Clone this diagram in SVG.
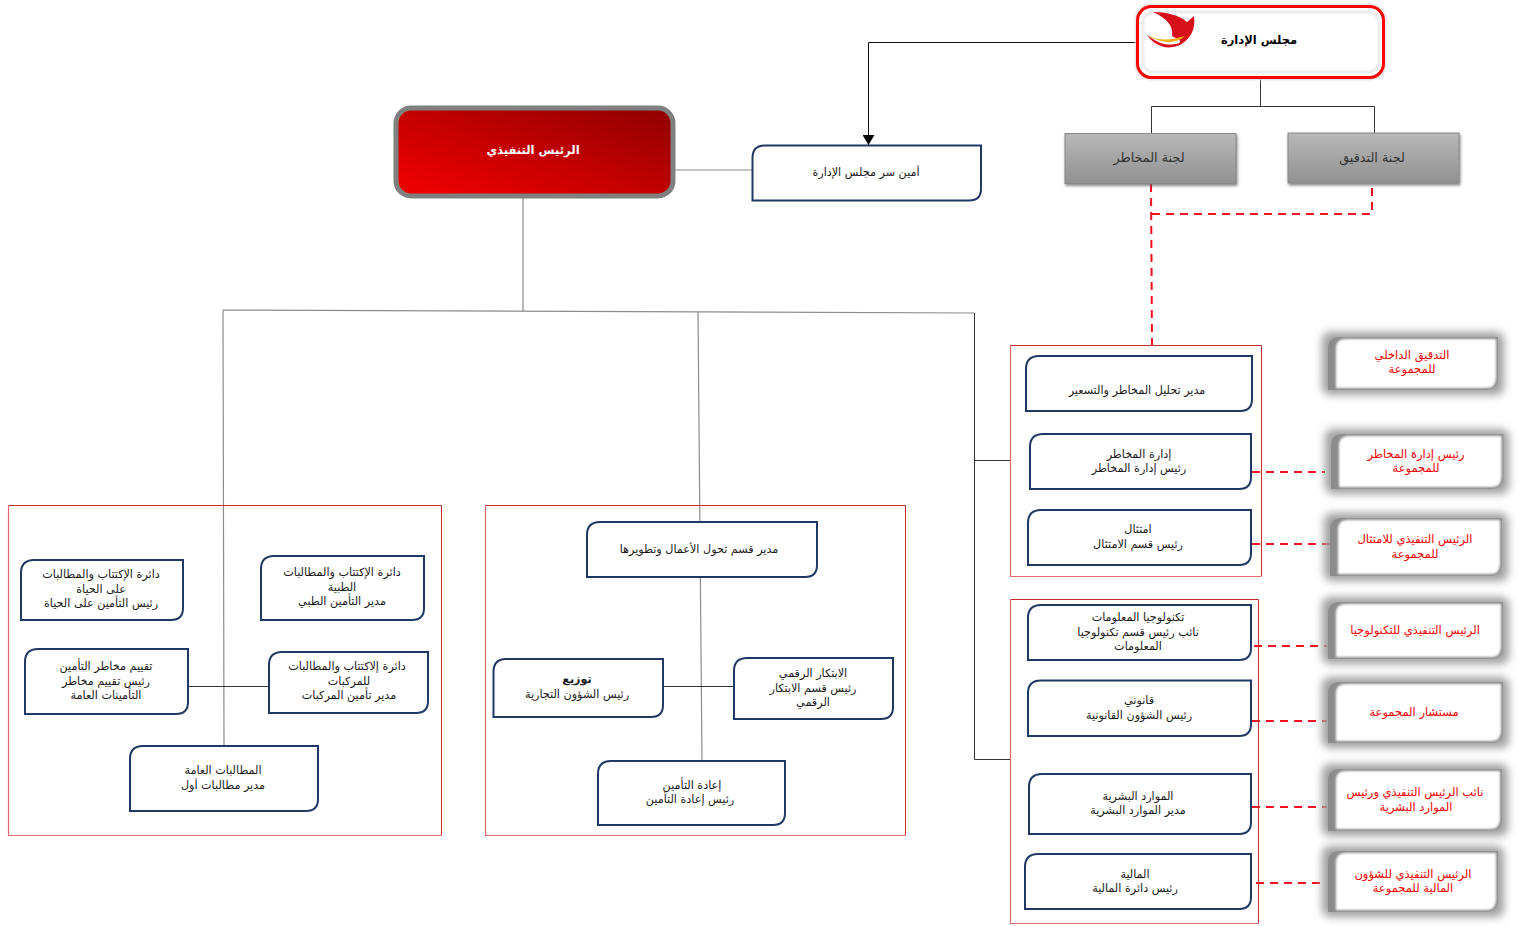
<svg xmlns="http://www.w3.org/2000/svg" width="1519" height="926" viewBox="0 0 1519 926">
<style>
text{font-family:"DejaVu Sans","Noto Sans",sans-serif;font-size:11.2px;text-anchor:middle;direction:rtl;fill:#1a1a1a}
.b{font-weight:bold}
.r{fill:#f00000;font-size:11.5px}
.n{fill:#fff;stroke:#1f3864;stroke-width:2}
.f{fill:none;stroke:#c92a2a;stroke-width:1}
.p{fill:none;stroke:#e06a6a;stroke-width:1.2}
.c{fill:none;stroke:#8c8c8c;stroke-width:1.2}
.k{fill:none;stroke:#333;stroke-width:1}
.a{fill:none;stroke:#111;stroke-width:1}
.d{fill:none;stroke:#f01020;stroke-width:2;stroke-dasharray:8 6}
.g{fill:url(#grey);stroke:#8a8a8a;stroke-width:1;filter:url(#sh)}
.sb{fill:#a0a0a0;filter:url(#bl5)}
.so{fill:#8c8c8c}
.si{fill:#fff;filter:url(#bl1)}
</style>
<defs>
<linearGradient id="grey" x1="0" y1="0" x2="0" y2="1"><stop offset="0" stop-color="#b8b8b8"/><stop offset="1" stop-color="#919191"/></linearGradient>
<linearGradient id="redg" x1="0" y1="1" x2="1" y2="0"><stop offset="0.1" stop-color="#ec0000"/><stop offset="1" stop-color="#8e0000"/></linearGradient>
<filter id="sh" x="-10%" y="-20%" width="120%" height="140%"><feDropShadow dx="1" dy="2" stdDeviation="1.6" flood-color="#555" flood-opacity=".7"/></filter>
<filter id="bl5" x="-15%" y="-30%" width="130%" height="160%"><feGaussianBlur stdDeviation="4"/></filter>
<filter id="bl1" x="-5%" y="-10%" width="110%" height="120%"><feGaussianBlur stdDeviation="1.2"/></filter>
<marker id="arr" markerUnits="userSpaceOnUse" markerWidth="10" markerHeight="12" refX="10" refY="6" orient="auto" viewBox="0 0 10 12"><path d="M0 0L10 6L0 12Z" fill="#000"/></marker>
</defs>

<g id="connectors">
<path class="k" d="M1260.500 78V106.500M1151.500 133V106.500H1374.500V133"/>
<path class="a" d="M1138 42.500H868.500V145" marker-end="url(#arr)"/>
<path class="c" d="M674 170H752"/>
<path class="c" d="M523 196V311M223 310L974 313M223 310L224 746M698 312L702 761"/>
<path class="k" d="M974.500 313V759.500M974.500 460.500H1011M974.500 759.500H1011M189 686.500H269M663 686.500H734"/>
<path class="d" d="M1151 184L1152 345M1372 188V214H1151"/>
<path class="d" d="M1252 472H1325M1252 544H1330M1254 646H1327M1252 721H1327M1252 807H1327M1256 883H1323"/>
</g>

<g id="frames">
<path class="p" d="M8.500 505.500V835.500H441M485.500 505.500V835.500H905M1010.500 345.500V576.500H1261M1010.500 599.500V923.500H1258"/>
<path class="f" d="M8.500 505.500H441.500V835.500M485.500 505.500H905.500V835.500M1010.500 345.500H1261.500V576.500M1010.500 599.500H1258.500V923.500"/>
</g>

<g id="board">
<rect x="1135" y="4" width="251" height="76" rx="15" fill="#ddd" filter="url(#bl1)"/>
<rect x="1137.500" y="6.500" width="246" height="71" rx="14" fill="#fff" stroke="#f00" stroke-width="3"/>
<rect x="1143" y="12" width="236" height="60" rx="10" fill="#fff" stroke="#e0e0e0" stroke-width="2" filter="url(#bl1)"/>
<path d="M1153 12C1165 12 1180 15 1187 22L1194 16C1196 30 1190 40 1178 46C1183 38 1178 40 1172 36C1174 26 1166 18 1153 12Z" fill="#d8101c"/>
<path d="M1145 32C1152 40 1165 42 1185 36C1176 44 1165 44 1150 37Z" fill="#f0b020"/>
<path d="M1147 35C1154 46 1172 54 1186 40C1172 48 1160 45 1147 35Z" fill="#d8101c"/>
<text class="b" x="1259" y="44" style="font-size:11.500px;fill:#000">مجلس الإدارة</text>
</g>
<g id="risk-committee"><rect class="g" x="1065" y="133.500" width="171" height="50"/><text x="1149" y="162" style="font-size:12.800px;fill:#333">لجنة المخاطر</text></g>
<g id="audit-committee"><rect class="g" x="1288" y="133" width="171" height="50"/><text x="1372" y="162" style="font-size:12.800px;fill:#333">لجنة التدقيق</text></g>
<g id="ceo">
<rect x="396" y="108" width="277" height="88" rx="15" fill="url(#redg)" stroke="#808080" stroke-width="5"/>
<text class="b" x="533" y="154" style="font-size:11.600px;fill:#fff">الرئيس التنفيذي</text>
</g>
<g id="secretary"><path class="n" d="M765 145.500H981V189Q981 200.500 969 200.500H752.500V158Q752.500 145.500 765 145.500Z"/><text x="866" y="176">أمين سر مجلس الإدارة</text></g>

<g id="life"><path class="n" d="M34 560H183V608Q183 620 171 620H21V573Q21 560 34 560Z"/><text x="101" y="578">دائرة الإكتتاب والمطالبات</text><text x="101" y="593">على الحياة</text><text x="101" y="607">رئيس التأمين على الحياة</text></g>
<g id="medical"><path class="n" d="M274 556H424V608Q424 620 412 620H261V569Q261 556 274 556Z"/><text x="342" y="576">دائرة الإكتتاب والمطالبات</text><text x="342" y="591">الطبية</text><text x="342" y="605">مدير التأمين الطبي</text></g>
<g id="risk-assessment"><path class="n" d="M38 649H188V702Q188 714 176 714H25V662Q25 649 38 649Z"/><text x="106" y="670">تقييم مخاطر التأمين</text><text x="106" y="685">رئيس تقييم مخاطر</text><text x="106" y="699">التأمينات العامة</text></g>
<g id="motor"><path class="n" d="M282 652H428V701Q428 713 416 713H269V665Q269 652 282 652Z"/><text x="347" y="670">دائرة إلاكتتاب والمطالبات</text><text x="349" y="685">للمركبات</text><text x="349" y="699">مدير تأمين المركبات</text></g>
<g id="general-claims"><path class="n" d="M143 746H318V799Q318 811 306 811H130V759Q130 746 143 746Z"/><text x="223" y="774">المطالبات العامة</text><text x="223" y="789">مدير مطالبات أول</text></g>

<g id="transformation"><path class="n" d="M600 522H817V565Q817 577 805 577H587V535Q587 522 600 522Z"/><text x="699" y="553">مدير قسم تحول الأعمال وتطويرها</text></g>
<g id="distribution"><path class="n" d="M506 659H663V705Q663 717 651 717H493.500V672Q493.500 659 506 659Z"/><text class="b" x="577" y="683">توزيع</text><text x="577" y="698">رئيس الشؤون التجارية</text></g>
<g id="digital"><path class="n" d="M747 658H893V707Q893 719 881 719H734V671Q734 658 747 658Z"/><text x="813" y="677">الابتكار الرقمي</text><text x="813" y="692">رئيس قسم الابتكار</text><text x="813" y="706">الرقمي</text></g>
<g id="reinsurance"><path class="n" d="M611 761H785V813Q785 825 773 825H598V774Q598 761 611 761Z"/><text x="692" y="789">إعادة التأمين</text><text x="690" y="803">رئيس إعادة التأمين</text></g>

<g id="risk-pricing"><path class="n" d="M1039 356H1252V399Q1252 411 1240 411H1026V369Q1026 356 1039 356Z"/><text x="1137" y="394">مدير تحليل المخاطر والتسعير</text></g>
<g id="risk-management"><path class="n" d="M1043 434H1251V477Q1251 489 1239 489H1030V447Q1030 434 1043 434Z"/><text x="1139" y="458">إدارة المخاطر</text><text x="1139" y="472">رئيس إدارة المخاطر</text></g>
<g id="compliance"><path class="n" d="M1041 510H1251V553Q1251 565 1239 565H1028V523Q1028 510 1041 510Z"/><text x="1138" y="533">امتثال</text><text x="1138" y="548">رئيس قسم الامتثال</text></g>
<g id="it"><path class="n" d="M1041 605H1251V648Q1251 660 1239 660H1028V618Q1028 605 1041 605Z"/><text x="1138" y="621">تكنولوجيا المعلومات</text><text x="1138" y="636">نائب رئيس قسم تكنولوجيا</text><text x="1138" y="650">المعلومات</text></g>
<g id="legal"><path class="n" d="M1041 680.500H1251V724Q1251 736 1239 736H1028V693Q1028 680.500 1041 680.500Z"/><text x="1139" y="704">قانوني</text><text x="1139" y="719">رئيس الشؤون القانونية</text></g>
<g id="hr"><path class="n" d="M1042 774H1251V822Q1251 834 1239 834H1029V787Q1029 774 1042 774Z"/><text x="1138" y="800">الموارد البشرية</text><text x="1138" y="814">مدير الموارد البشرية</text></g>
<g id="finance"><path class="n" d="M1038 854H1251V897Q1251 909 1239 909H1025V867Q1025 854 1038 854Z"/><text x="1135" y="878">المالية</text><text x="1135" y="892">رئيس دائرة المالية</text></g>

<g id="group-audit"><rect class="sb" x="1322" y="332" width="182" height="63" rx="8"/><path class="so" d="M1340 337H1498V378Q1498 390 1486 390H1328V349Q1328 337 1340 337Z"/><path class="si" d="M1345 339H1496V378Q1496 388 1486 388H1336V349Q1336 339 1345 339Z"/><text class="r" x="1412" y="359">التدقيق الداخلي</text><text class="r" x="1412" y="373">للمجموعة</text></g>
<g id="group-risk"><rect class="sb" x="1325" y="429" width="184" height="65" rx="8"/><path class="so" d="M1343 434H1503.500V477Q1503.500 489 1491 489H1331V446Q1331 434 1343 434Z"/><path class="si" d="M1348 436H1501.500V477Q1501.500 487 1491 487H1339V446Q1339 436 1348 436Z"/><text class="r" x="1416" y="458">رئيس إدارة المخاطر</text><text class="r" x="1416" y="472">للمجموعة</text></g>
<g id="group-compliance"><rect class="sb" x="1324" y="513" width="184" height="68" rx="8"/><path class="so" d="M1342 518H1502V564Q1502 576 1490 576H1330V530Q1330 518 1342 518Z"/><path class="si" d="M1347 520H1500V564Q1500 574 1490 574H1338V530Q1338 520 1347 520Z"/><text class="r" x="1415" y="543">الرئيس التنفيذي للامتثال</text><text class="r" x="1415" y="558">للمجموعة</text></g>
<g id="group-tech"><rect class="sb" x="1322" y="597" width="187" height="67" rx="8"/><path class="so" d="M1340 602H1503V647Q1503 659 1491 659H1328V614Q1328 602 1340 602Z"/><path class="si" d="M1345 604H1501V647Q1501 657 1491 657H1336V614Q1336 604 1345 604Z"/><text class="r" x="1415" y="634">الرئيس التنفيذي للتكنولوجيا</text></g>
<g id="group-adviser"><rect class="sb" x="1322" y="677" width="187" height="71" rx="8"/><path class="so" d="M1340 682H1503V731Q1503 743 1491 743H1328V694Q1328 682 1340 682Z"/><path class="si" d="M1345 684H1501V731Q1501 741 1491 741H1336V694Q1336 684 1345 684Z"/><text class="r" x="1414" y="716">مستشار المجموعة</text></g>
<g id="group-hr"><rect class="sb" x="1322" y="764" width="186" height="72" rx="8"/><path class="so" d="M1340 769H1502V819Q1502 831 1490 831H1328V781Q1328 769 1340 769Z"/><path class="si" d="M1345 771H1500V819Q1500 829 1490 829H1336V781Q1336 771 1345 771Z"/><text class="r" x="1415" y="796">نائب الرئيس التنفيذي ورئيس</text><text class="r" x="1416" y="811">الموارد البشرية</text></g>
<g id="group-finance"><rect class="sb" x="1322" y="846" width="182" height="71" rx="8"/><path class="so" d="M1340 851H1498V900Q1498 912 1486 912H1328V863Q1328 851 1340 851Z"/><path class="si" d="M1345 853H1496V900Q1496 910 1486 910H1336V863Q1336 853 1345 853Z"/><text class="r" x="1413" y="878">الرئيس التنفيذي للشؤون</text><text class="r" x="1413" y="892">المالية للمجموعة</text></g>
</svg>
